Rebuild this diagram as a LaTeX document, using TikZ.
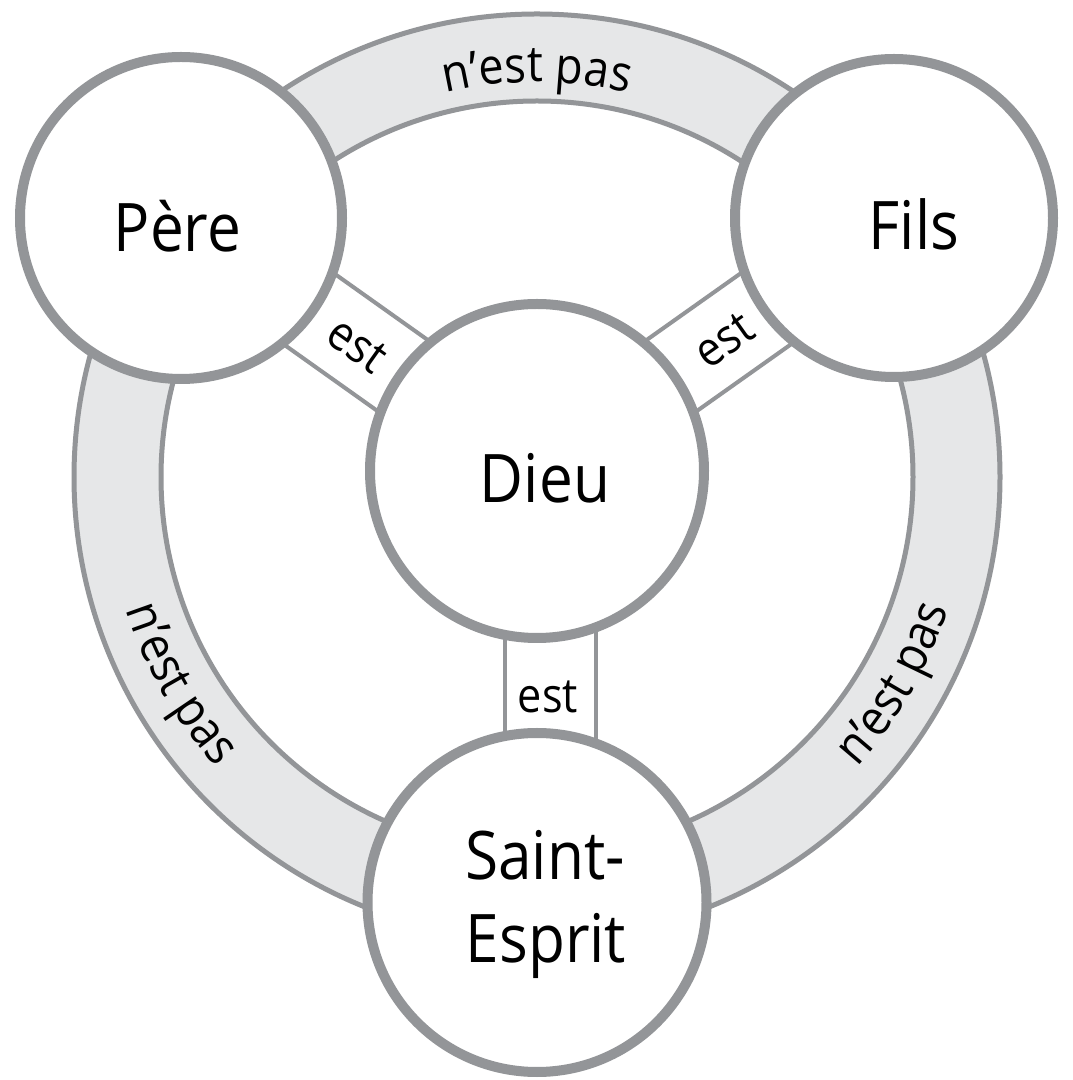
\documentclass[tikz,border=0pt]{standalone}
\usepackage{fontspec}
\setmainfont{Open Sans}[FakeStretch=0.9]
\newfontfamily\bandfont{Open Sans}[FakeStretch=0.9]
\usetikzlibrary{calc,decorations.text}
\pgfdeclarelayer{background}
\pgfsetlayers{background,main}
\definecolor{ringgray}{RGB}{147,149,152}
\definecolor{bandfill}{RGB}{230,231,232}
\newcommand{\bandtext}{\bandfont\fontsize{50}{60}\selectfont}
\begin{document}
\begin{tikzpicture}[x=1pt,y=1pt,
  persona/.style={circle, draw=ringgray, line width=10pt, fill=white, inner sep=0pt},
  bigname/.style={font=\fontsize{67}{80}\selectfont, text=black, inner sep=0pt},
  estlbl/.style={font=\fontsize{48}{56}\selectfont, text=black, inner sep=0pt},
  stripline/.style={draw=ringgray, line width=4pt},
  bandline/.style={draw=ringgray, line width=5pt},
  arctext/.style={decorate, decoration={text along path, text align=center, text={|\bandtext|#1}}}]
\useasboundingbox (0,0) rectangle (1072,1080);
\coordinate (ring) at (537,603);

% persons and God
\node[persona, minimum size=322pt] (pere) at (181,862) {};
\node[persona, minimum size=318pt] (fils) at (894,862) {};
\node[persona, minimum size=334pt] (dieu) at (537,609) {};
\node[persona, minimum size=339pt] (esprit) at (537,177.5) {};

\begin{pgfonlayer}{background}
  \fill[white] (0,0) rectangle (1072,1080);
  \fill[bandfill, even odd rule] (ring) circle[radius=463] (ring) circle[radius=376];
  \draw[bandline] (ring) circle[radius=463];
  \draw[bandline] (ring) circle[radius=376];
  % strips "est"
  \draw[stripline] ($(pere.center)!43.5pt!90:(dieu.center)$) -- ($(dieu.center)!43.5pt!-90:(pere.center)$);
  \draw[stripline] ($(pere.center)!43.5pt!-90:(dieu.center)$) -- ($(dieu.center)!43.5pt!90:(pere.center)$);
  \draw[stripline] ($(fils.center)!43.5pt!90:(dieu.center)$) -- ($(dieu.center)!43.5pt!-90:(fils.center)$);
  \draw[stripline] ($(fils.center)!43.5pt!-90:(dieu.center)$) -- ($(dieu.center)!43.5pt!90:(fils.center)$);
  \draw[stripline] ([xshift=-32pt]esprit.center) -- ([xshift=-32pt]dieu.center);
  \draw[stripline] ([xshift=59pt]esprit.center) -- ([xshift=59pt]dieu.center);
\end{pgfonlayer}

% names
\node[bigname, anchor=base] (tpere) at (177.5,828) {Père};
\node[bigname, anchor=base] (tfils) at (914,830) {Fils};
\node[bigname, anchor=base] (tdieu) at (545,577) {Dieu};
\node[bigname, anchor=base] (tsaint) at (545,200) {Saint-};
\node[bigname, anchor=base] (tesprit) at (546,117) {Esprit};

% est labels
\node[estlbl, rotate=-35.4] (estp) at (357,735) {est};
\node[estlbl, rotate=35.3] (estf) at (724,740) {est};
\node[estlbl, anchor=base] (ests) at (548,367) {est};

% n'est pas labels along the ring
\path[arctext={n’est pas}] ($(ring)+(150:395)$) arc[start angle=150, end angle=30, radius=395];
\path[arctext={n’est pas}] ($(ring)+(150:432)$) arc[start angle=150, end angle=270, radius=432];
\path[arctext={n’est pas}] ($(ring)+(270:432)$) arc[start angle=270, end angle=390, radius=432];
\end{tikzpicture}
\end{document}
